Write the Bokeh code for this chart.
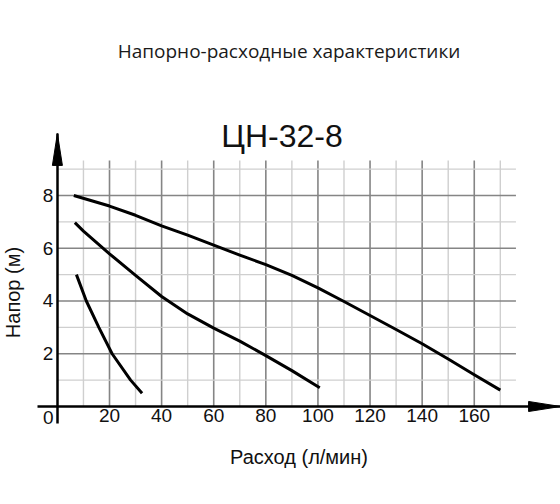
import numpy as np
from bokeh.plotting import figure
from bokeh.models import FixedTicker, Label, Range1d
from bokeh.embed import file_html
from bokeh.resources import INLINE

# ---- texts ----
title_text = "Напорно-расходные характеристики"
model_text = "ЦН-32-8"
x_label = "Расход (л/мин)"
y_label = "Напор (м)"

# ---- ticks ----
x_ticks = [20, 40, 60, 80, 100, 120, 140, 160]
y_ticks = [2, 4, 6, 8]

# ---- pump curves: flow (л/мин) vs head (м) ----
curve1_q = [6.3, 20, 30, 40, 50, 60, 70, 80, 90, 100, 110, 120, 130, 140, 150, 160, 170]
curve1_h = [8.0, 7.6, 7.25, 6.85, 6.5, 6.12, 5.74, 5.38, 4.97, 4.5, 3.98, 3.45, 2.92, 2.38, 1.8, 1.2, 0.62]

curve2_q = [6.7, 10, 20, 30, 40, 50, 60, 70, 80, 90, 100.7]
curve2_h = [6.97, 6.65, 5.79, 4.97, 4.17, 3.51, 2.97, 2.48, 1.93, 1.36, 0.71]

curve3_q = [7.3, 11.1, 15.9, 21.0, 28.1, 32.5]
curve3_h = [5.0, 4.0, 3.0, 2.0, 1.0, 0.5]

# frame covers whole canvas
X0, X1 = -21.84, 193.1
Y0, Y1 = -3.716, 15.393
# axis extents
AX_X0, AX_X1 = -7.64, 193.1
AX_Y0, AX_Y1 = -0.645, 10.35

p = figure(width=560, height=504,
           x_range=Range1d(X0, X1), y_range=Range1d(Y0, Y1),
           output_backend="svg", toolbar_location=None,
           min_border_left=0, min_border_right=0,
           min_border_top=0, min_border_bottom=0)
p.title.visible = False
p.outline_line_color = None
p.grid.visible = False
p.background_fill_color = "white"
p.border_fill_color = "white"

# ---- grid (bounded) ----
grid_top = 9.33
grid_right = 176
vx = np.arange(10, 171, 10)
vmajor = vx % 20 == 0
hy = np.arange(1, 10)
hmajor = hy % 2 == 0

for sel, col, w in [(~vmajor, "#cfcfcf", 1.4), (vmajor, "#858585", 1.6)]:
    xs = vx[sel]
    p.segment(x0=xs, y0=np.zeros(len(xs)), x1=xs, y1=np.full(len(xs), grid_top),
              line_color=col, line_width=w)
for sel, col, w in [(~hmajor, "#cfcfcf", 1.4), (hmajor, "#858585", 1.6)]:
    ys = hy[sel]
    p.segment(x0=np.zeros(len(ys)), y0=ys, x1=np.full(len(ys), grid_right), y1=ys,
              line_color=col, line_width=w)

# ---- curves ----
for q, h in [(curve1_q, curve1_h), (curve2_q, curve2_h), (curve3_q, curve3_h)]:
    p.line(q, h, line_color="black", line_width=3, line_join="round")

# ---- axes at data zero ----
for ax in (p.xaxis, p.yaxis):
    ax.fixed_location = 0
    ax.axis_line_color = "black"
    ax.axis_line_width = 2.5
    ax.major_tick_line_color = None
    ax.minor_tick_line_color = None
    ax.major_tick_out = 0
    ax.major_tick_in = 0
    ax.minor_tick_out = 0
    ax.major_label_text_font = "Liberation Sans"
    ax.major_label_text_font_size = "19px"
    ax.major_label_text_color = "#111111"

p.xaxis.bounds = (AX_X0, AX_X1)
p.yaxis.bounds = (AX_Y0, AX_Y1)
p.xaxis.ticker = FixedTicker(ticks=x_ticks)
p.yaxis.ticker = FixedTicker(ticks=y_ticks)
p.xaxis.major_label_standoff = 3
p.yaxis.major_label_standoff = 4
p.xaxis.axis_label = x_label
p.xaxis.axis_label_text_font = "Liberation Sans"
p.xaxis.axis_label_text_font_size = "20px"
p.xaxis.axis_label_text_font_style = "normal"
p.xaxis.axis_label_text_color = "#111111"
p.xaxis.axis_label_standoff = 20

# ---- arrow heads ----
p.patch([-1.92, 0, 1.92], [9.14, AX_Y1, 9.14], color="black")
p.patch([180.85, AX_X1, 180.85], [0.19, 0, -0.19], color="black")

# ---- labels ----
p.add_layout(Label(x=88.9, y=13.49, text=title_text, text_font="Open Sans",
                   text_font_size="19px", text_align="center",
                   text_baseline="alphabetic", text_color="#1a1a1a"))
p.add_layout(Label(x=86.2, y=10.27, text=model_text, text_font="Liberation Sans",
                   text_font_size="32px", text_align="center",
                   text_baseline="alphabetic", text_color="#111111"))
p.add_layout(Label(x=-1.5, y=-0.42, text="0", text_font="Liberation Sans",
                   text_font_size="19px", text_align="right",
                   text_baseline="middle", text_color="#111111"))
p.add_layout(Label(x=-17.2, y=4.32, text=y_label, text_font="Liberation Sans",
                   text_font_size="20px", text_align="center", angle=np.pi / 2,
                   text_baseline="middle", text_color="#111111"))

open("out.html", "w").write(file_html(p, INLINE))
